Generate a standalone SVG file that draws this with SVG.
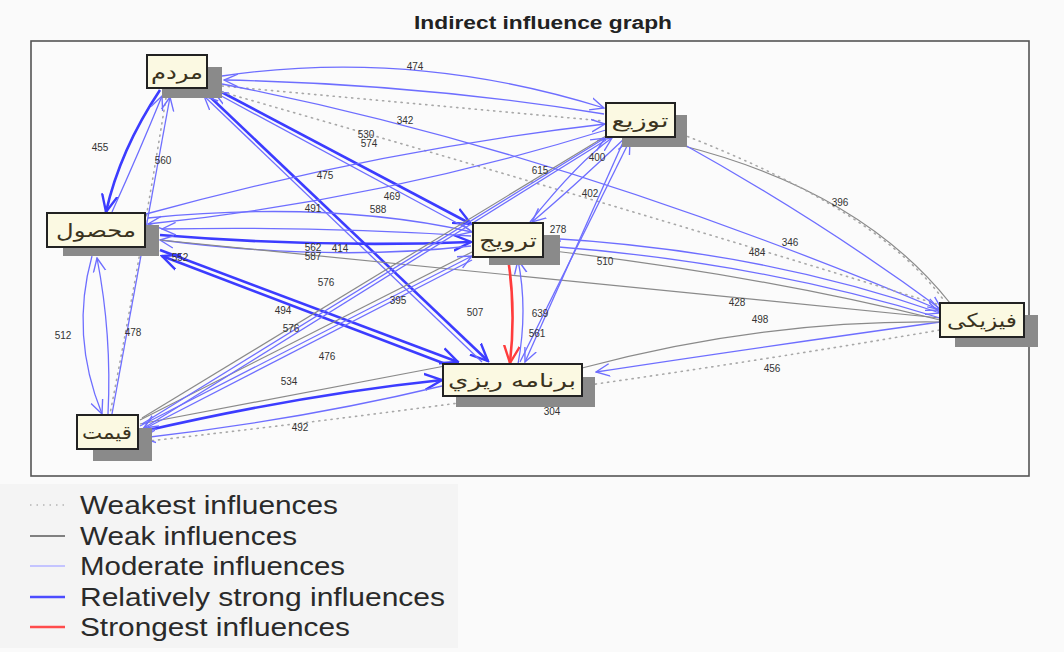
<svg xmlns="http://www.w3.org/2000/svg" width="1064" height="652" viewBox="0 0 1064 652">
  <style>
    .wst { fill: none; stroke: #a8a8a8; stroke-width: 1.6; stroke-dasharray: 1.2 5; stroke-linecap: round; }
    .wk  { fill: none; stroke: #8a8a8a; stroke-width: 1.2; }
    .md  { fill: none; stroke: #6e6eff; stroke-width: 1.3; marker-end: url(#arr-md); }
    .st  { fill: none; stroke: #3c3cff; stroke-width: 2.6; marker-end: url(#arr-st); }
    .sg  { fill: none; stroke: #ff3c3c; stroke-width: 2.6; marker-end: url(#arr-sg); }
    .lbl { font-family: "Liberation Sans", Arial, sans-serif; font-size: 10px; fill: #333; text-anchor: middle; }
    .box { fill: #fbf9e2; stroke: #222; stroke-width: 2; }
    .shd { fill: #8a8a8a; }
    .nt  { font-family: "DejaVu Sans", "Noto Sans", sans-serif; font-size: 19px; fill: #3a3320; text-anchor: middle; }
    .leg { font-family: "Liberation Sans", Arial, sans-serif; font-size: 25px; fill: #2a2a2a; }
  </style>
  <defs>
    <marker id="arr-md" viewBox="0 0 12 12" refX="11" refY="6" markerWidth="15" markerHeight="15" markerUnits="userSpaceOnUse" orient="auto">
      <path d="M0,1 L11,6 L0,11" fill="none" stroke="#6e6eff" stroke-width="1.1"/>
    </marker>
    <marker id="arr-st" viewBox="0 0 12 12" refX="11" refY="6" markerWidth="19" markerHeight="19" markerUnits="userSpaceOnUse" orient="auto">
      <path d="M0,1 L11,6 L0,11" fill="none" stroke="#3c3cff" stroke-width="1.5"/>
    </marker>
    <marker id="arr-sg" viewBox="0 0 12 12" refX="11" refY="6" markerWidth="19" markerHeight="19" markerUnits="userSpaceOnUse" orient="auto">
      <path d="M0,1 L11,6 L0,11" fill="none" stroke="#ff3c3c" stroke-width="1.5"/>
    </marker>
  </defs>

  <!-- page -->
  <rect x="0" y="0" width="1064" height="652" fill="#fafafa"/>
  <rect x="0" y="484" width="458" height="164" fill="#f4f4f4"/>

  <!-- title and plot frame -->
  <text x="543" y="29" font-family="Liberation Sans, Arial, sans-serif" font-size="18" font-weight="bold" fill="#222" text-anchor="middle" textLength="258" lengthAdjust="spacingAndGlyphs">Indirect influence graph</text>
  <rect x="31" y="41" width="998" height="435" fill="#fbfbfb" stroke="#555" stroke-width="1.6"/>

  <!-- connectors -->
  <g id="connectors">
    <!-- people -->
    <path class="md" d="M222,76 Q412,48 604,108"/>
    <path class="md" d="M604,114 Q420,84 224,80"/>
    <path class="wst" d="M222,86 L604,121"/>
    <path class="st" d="M210,86 L471,224"/>
    <path class="md" d="M470,230 L214,92"/>
    <path class="md" d="M222,84 Q560,150 940,310"/>
    <path class="st" d="M207,94 L488,361"/>
    <path class="md" d="M482,362 L204,96"/>
    <path class="st" d="M160,90 Q120,150 106,212"/>
    <path class="md" d="M112,212 Q140,150 162,96"/>
    <path class="wst" d="M166,98 Q140,260 110,414"/>
    <path class="md" d="M112,414 L170,97"/>
    <path class="wst" d="M222,92 Q600,200 940,305"/>

    <!-- product -->
    <path class="md" d="M146,214 Q380,150 605,124"/>
    <path class="md" d="M606,130 Q380,200 148,224"/>
    <path class="md" d="M148,218 Q330,200 472,232"/>
    <path class="st" d="M160,235 Q320,248 471,242"/>
    <path class="md" d="M471,236 Q320,226 162,229"/>
    <path class="md" d="M471,246 Q330,262 160,240"/>
    <path class="st" d="M160,250 L458,362"/>
    <path class="st" d="M456,368 L162,256"/>
    <path class="wk" d="M160,240 Q560,280 940,318"/>
    <path class="md" d="M92,256 Q70,335 102,414"/>
    <path class="md" d="M108,414 Q112,335 97,258"/>

    <!-- promotion / distribution -->
    <path class="md" d="M530,222 Q580,160 612,138"/>
    <path class="md" d="M625,138 Q570,190 532,222"/>
    <path class="wk" d="M606,136 L142,418"/>
    <path class="md" d="M545,238 Q760,250 940,313"/>
    <path class="md" d="M940,318 Q760,262 547,246"/>
    <path class="wk" d="M545,250 Q760,275 940,320"/>
    <path class="sg" d="M508,258 Q516,310 510,363"/>
    <path class="md" d="M518,364 Q528,310 518,260"/>
    <path class="md" d="M624,140 L525,362"/>
    <path class="md" d="M520,362 Q580,240 630,140"/>
    <path class="wk" d="M680,145 Q860,190 950,303"/>
    <path class="wst" d="M676,132 Q880,210 945,302"/>
    <path class="md" d="M676,140 Q820,220 942,310"/>

    <!-- physical / planning / price -->
    <path class="md" d="M940,322 Q740,350 596,372"/>
    <path class="wk" d="M582,368 Q760,320 940,322"/>
    <path class="wst" d="M140,442 Q560,395 940,330"/>
    <path class="st" d="M140,432 Q300,395 442,380"/>
    <path class="md" d="M442,386 Q300,420 142,438"/>
    <path class="wk" d="M140,424 L445,366"/>
    <path class="wk" d="M140,420 L472,252"/>
    <path class="md" d="M140,426 L472,256"/>
    <path class="md" d="M472,260 L142,430"/>
    <path class="md" d="M142,424 L605,138"/>
    <path class="md" d="M606,140 L144,428"/>
  </g>

  <!-- connector values -->
  <g id="values">
    <text class="lbl" x="415" y="70">474</text>
    <text class="lbl" x="405" y="124">342</text>
    <text class="lbl" x="366" y="138">530</text>
    <text class="lbl" x="369" y="147">574</text>
    <text class="lbl" x="100" y="151">455</text>
    <text class="lbl" x="163" y="164">560</text>
    <text class="lbl" x="325" y="179">475</text>
    <text class="lbl" x="392" y="200">469</text>
    <text class="lbl" x="313" y="212">491</text>
    <text class="lbl" x="378" y="213">588</text>
    <text class="lbl" x="540" y="174">615</text>
    <text class="lbl" x="597" y="161">400</text>
    <text class="lbl" x="590" y="197">402</text>
    <text class="lbl" x="840" y="206">396</text>
    <text class="lbl" x="757" y="256">484</text>
    <text class="lbl" x="790" y="246">346</text>
    <text class="lbl" x="558" y="233">278</text>
    <text class="lbl" x="605" y="265">510</text>
    <text class="lbl" x="313" y="251">562</text>
    <text class="lbl" x="313" y="260">587</text>
    <text class="lbl" x="340" y="252">414</text>
    <text class="lbl" x="180" y="261">552</text>
    <text class="lbl" x="326" y="286">576</text>
    <text class="lbl" x="737" y="306">428</text>
    <text class="lbl" x="760" y="323">498</text>
    <text class="lbl" x="283" y="314">494</text>
    <text class="lbl" x="291" y="332">576</text>
    <text class="lbl" x="398" y="304">395</text>
    <text class="lbl" x="475" y="316">507</text>
    <text class="lbl" x="540" y="317">639</text>
    <text class="lbl" x="537" y="337">561</text>
    <text class="lbl" x="327" y="360">476</text>
    <text class="lbl" x="63" y="339">512</text>
    <text class="lbl" x="133" y="336">478</text>
    <text class="lbl" x="772" y="372">456</text>
    <text class="lbl" x="289" y="385">534</text>
    <text class="lbl" x="552" y="415">304</text>
    <text class="lbl" x="300" y="431">492</text>
  </g>

  <!-- nodes -->
  <g id="n-people">
    <rect class="shd" x="162" y="67" width="60" height="31"/>
    <rect class="box" x="147" y="55" width="60" height="33"/>
    <text class="nt" x="177" y="79" textLength="52" lengthAdjust="spacingAndGlyphs">مردم</text>
  </g>
  <g id="n-product">
    <rect class="shd" x="63" y="225" width="96" height="31"/>
    <rect class="box" x="47" y="213" width="98" height="34"/>
    <text class="nt" x="96" y="237" textLength="80" lengthAdjust="spacingAndGlyphs">محصول</text>
  </g>
  <g id="n-promotion">
    <rect class="shd" x="489" y="235" width="71" height="30"/>
    <rect class="box" x="473" y="223" width="70" height="34"/>
    <text class="nt" x="508" y="247" textLength="58" lengthAdjust="spacingAndGlyphs">ترویج</text>
  </g>
  <g id="n-distribution">
    <rect class="shd" x="622" y="115" width="65" height="32"/>
    <rect class="box" x="606" y="103" width="69" height="34"/>
    <text class="nt" x="640" y="127" textLength="57" lengthAdjust="spacingAndGlyphs">توزیع</text>
  </g>
  <g id="n-physical">
    <rect class="shd" x="955" y="315" width="83" height="32"/>
    <rect class="box" x="940" y="303" width="84" height="34"/>
    <text class="nt" x="982" y="327" textLength="70" lengthAdjust="spacingAndGlyphs">فیزیکی</text>
  </g>
  <g id="n-planning">
    <rect class="shd" x="456" y="377" width="139" height="30"/>
    <rect class="box" x="443" y="364" width="139" height="32"/>
    <text class="nt" x="512" y="387" textLength="128" lengthAdjust="spacingAndGlyphs">برنامه ريزي</text>
  </g>
  <g id="n-price">
    <rect class="shd" x="93" y="428" width="59" height="33"/>
    <rect class="box" x="77" y="415" width="61" height="34"/>
    <text class="nt" x="107" y="439" textLength="50" lengthAdjust="spacingAndGlyphs">قیمت</text>
  </g>

  <!-- legend -->
  <g id="legend">
    <line x1="30" y1="505" x2="65" y2="505" stroke="#c4c4c4" stroke-width="2" stroke-dasharray="1.5 5"/>
    <line x1="30" y1="536" x2="65" y2="536" stroke="#808080" stroke-width="2.2"/>
    <line x1="30" y1="566" x2="65" y2="566" stroke="#c4c4ff" stroke-width="2.2"/>
    <line x1="30" y1="597" x2="65" y2="597" stroke="#4c4cff" stroke-width="2.4"/>
    <line x1="30" y1="627" x2="65" y2="627" stroke="#ff4c4c" stroke-width="2.4"/>
    <text class="leg" x="80" y="514" textLength="258" lengthAdjust="spacingAndGlyphs">Weakest influences</text>
    <text class="leg" x="80" y="545" textLength="217" lengthAdjust="spacingAndGlyphs">Weak influences</text>
    <text class="leg" x="80" y="575" textLength="265" lengthAdjust="spacingAndGlyphs">Moderate influences</text>
    <text class="leg" x="80" y="606" textLength="365" lengthAdjust="spacingAndGlyphs">Relatively strong influences</text>
    <text class="leg" x="80" y="636" textLength="270" lengthAdjust="spacingAndGlyphs">Strongest influences</text>
  </g>
</svg>
